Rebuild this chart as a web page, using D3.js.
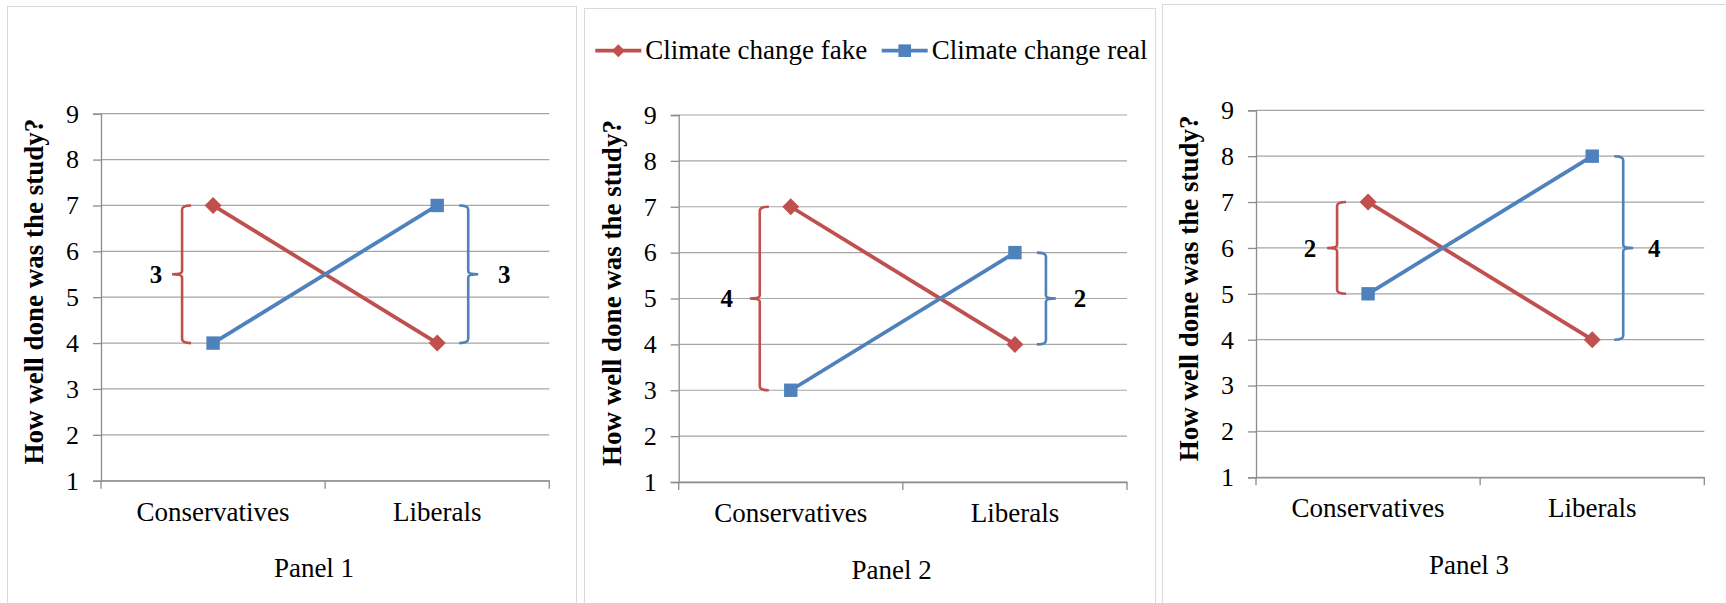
<!DOCTYPE html>
<html>
<head>
  <meta charset="UTF-8" />
  <title>How well done was the study?</title>
  <script src="https://cdn.jsdelivr.net/npm/d3@7"></script>
  <style>
    html, body { margin: 0; padding: 0; background: #fff; }
    svg { display: block; font-family: 'Liberation Serif', 'Times New Roman', serif; }
    .ytick text { font-size: 26px; font-family: 'Liberation Serif', 'Times New Roman', serif; fill: #000; }
    .xcat text { font-size: 27px; font-family: 'Liberation Serif', 'Times New Roman', serif; fill: #000; }
  </style>
</head>
<body>
  <svg id="chart"></svg>
  <script>
    // data
    const categories = ['Conservatives', 'Liberals'];
    const panelNames = ['Panel 1', 'Panel 2', 'Panel 3'];
    const seriesNames = ['Climate change fake', 'Climate change real'];
    const fakeValues = [[7, 4], [7, 4], [7, 4]];
    const realValues = [[4, 7], [3, 6], [5, 8]];
    const yTicks = [1, 2, 3, 4, 5, 6, 7, 8, 9];
    const yTitle = 'How well done was the study?';

    const width = 1726, height = 603;
    const red = '#C0504D', blue = '#4F81BD';

    // layout of each panel (plot area origin + frame)
    const plotLeft = [101, 678.7, 1256];
    const plotTop = [113.7, 115, 110.3];
    const frames = [[7.5, 6.5, 569], [584.5, 8.5, 571], [1162.5, 4.5, 600]];
    const redLabelDx = [-57, -64, -58];
    const blueLabelDx = [67, 65, 62];
    const plotW = 448.3, plotH = 367;

    const svg = d3.select('#chart').attr('width', width).attr('height', height);

    const x = d3.scaleBand().domain(categories).range([0, plotW]).padding(0);
    const y = d3.scaleLinear().domain([1, 9]).range([plotH, 0]);

    function bracket(xc, y1, y2, side) {
      // side = -1 : bracket on the left, nub pointing left
      const xv = xc + side * 31;
      const xh = xc + side * 22;
      const xn = xc + side * 41;
      const top = Math.min(y1, y2), bot = Math.max(y1, y2), mid = (top + bot) / 2;
      return `M${xh},${top} Q${xv},${top} ${xv},${top + 4} L${xv},${mid - 3} Q${xv},${mid} ${xn},${mid}` +
        ` Q${xv},${mid} ${xv},${mid + 3} L${xv},${bot - 4} Q${xv},${bot} ${xh},${bot}`;
    }

    const diamond = 'M0,-8.5L8.5,0L0,8.5L-8.5,0Z';

    panelNames.forEach((name, i) => {
      const f = frames[i];
      svg.append('rect')
        .attr('x', f[0]).attr('y', f[1]).attr('width', f[2]).attr('height', 700)
        .attr('fill', 'none').attr('stroke', '#D9D9D9').attr('stroke-width', 1);

      const g = svg.append('g').attr('transform', `translate(${plotLeft[i]},${plotTop[i]})`);

      // gridlines
      g.append('g')
        .selectAll('line')
        .data(yTicks)
        .join('line')
        .attr('x1', 0).attr('x2', plotW)
        .attr('y1', d => y(d)).attr('y2', d => y(d))
        .attr('stroke', '#A6A6A6').attr('stroke-width', 1.2);

      // y axis
      const yAxis = g.append('g').attr('class', 'ytick')
        .call(d3.axisLeft(y).tickValues(yTicks).tickFormat(d3.format('d')).tickSize(8).tickPadding(14));
      yAxis.select('.domain').attr('stroke', '#8C8C8C').attr('stroke-width', 1.3);
      yAxis.selectAll('.tick line').attr('stroke', '#8C8C8C').attr('stroke-width', 1.3);

      // x axis
      const xAxis = g.append('g').attr('class', 'xcat').attr('transform', `translate(0,${plotH})`)
        .call(d3.axisBottom(x).tickSize(0).tickPadding(0));
      xAxis.select('.domain').attr('stroke', '#8C8C8C').attr('stroke-width', 1.3);
      xAxis.selectAll('text').attr('y', 40).attr('dy', 0);
      const edges = categories.map(c => x(c)).concat([plotW]);
      xAxis.selectAll('.edge')
        .data(edges)
        .join('line')
        .attr('class', 'edge')
        .attr('x1', d => d).attr('x2', d => d)
        .attr('y1', 0).attr('y2', 8)
        .attr('stroke', '#8C8C8C').attr('stroke-width', 1.3);

      // axis title
      g.append('text')
        .attr('transform', `translate(-58,${plotH / 2 - 5.5}) rotate(-90)`)
        .attr('text-anchor', 'middle')
        .attr('font-size', 27).attr('font-weight', 'bold').attr('fill', '#000')
        .text(yTitle);

      // panel label
      g.append('text')
        .attr('x', 213).attr('y', plotH + 96.6)
        .attr('text-anchor', 'middle')
        .attr('font-size', 27).attr('fill', '#000')
        .text(name);

      const cx = c => x(c) + x.bandwidth() / 2;
      const fake = fakeValues[i], real = realValues[i];

      // brackets with the size of each gap
      const c0 = cx(categories[0]), c1 = cx(categories[1]);
      g.append('path')
        .attr('d', bracket(c0, y(fake[0]), y(real[0]), -1))
        .attr('fill', 'none').attr('stroke', red).attr('stroke-width', 2.6);
      g.append('text')
        .attr('x', c0 + redLabelDx[i]).attr('y', y((fake[0] + real[0]) / 2))
        .attr('dy', '0.35em').attr('text-anchor', 'middle')
        .attr('font-size', 25).attr('font-weight', 'bold').attr('fill', '#000')
        .text(Math.abs(fake[0] - real[0]));

      g.append('path')
        .attr('d', bracket(c1, y(fake[1]), y(real[1]), 1))
        .attr('fill', 'none').attr('stroke', blue).attr('stroke-width', 2.6);
      g.append('text')
        .attr('x', c1 + blueLabelDx[i]).attr('y', y((fake[1] + real[1]) / 2))
        .attr('dy', '0.35em').attr('text-anchor', 'middle')
        .attr('font-size', 25).attr('font-weight', 'bold').attr('fill', '#000')
        .text(Math.abs(fake[1] - real[1]));

      // series lines
      const line = d3.line().x((d, j) => cx(categories[j])).y(d => y(d));
      g.append('path').datum(fake).attr('d', line)
        .attr('fill', 'none').attr('stroke', red).attr('stroke-width', 3.8);
      g.append('path').datum(real).attr('d', line)
        .attr('fill', 'none').attr('stroke', blue).attr('stroke-width', 3.8);

      // markers
      g.selectAll('.fake-pt')
        .data(fake)
        .join('path')
        .attr('class', 'fake-pt')
        .attr('d', diamond)
        .attr('transform', (d, j) => `translate(${cx(categories[j])},${y(d)})`)
        .attr('fill', red);
      g.selectAll('.real-pt')
        .data(real)
        .join('rect')
        .attr('class', 'real-pt')
        .attr('x', (d, j) => cx(categories[j]) - 6.7)
        .attr('y', d => y(d) - 6.7)
        .attr('width', 13.4).attr('height', 13.4)
        .attr('fill', blue);

      // legend only on the middle panel
      if (i === 1) {
        const lg = svg.append('g').attr('transform', `translate(${plotLeft[i]},50.7)`);
        const items = [
          { name: seriesNames[0], color: red, x0: -83.4, shape: 'diamond' },
          { name: seriesNames[1], color: blue, x0: 203, shape: 'square' }
        ];
        items.forEach(it => {
          lg.append('line')
            .attr('x1', it.x0).attr('x2', it.x0 + 46)
            .attr('y1', 0).attr('y2', 0)
            .attr('stroke', it.color).attr('stroke-width', 3.8);
          if (it.shape === 'diamond') {
            lg.append('path').attr('d', 'M0,-6.5L6.5,0L0,6.5L-6.5,0Z')
              .attr('transform', `translate(${it.x0 + 23},0)`).attr('fill', it.color);
          } else {
            lg.append('rect').attr('x', it.x0 + 23 - 6.3).attr('y', -6.3)
              .attr('width', 12.6).attr('height', 12.6).attr('fill', it.color);
          }
          lg.append('text')
            .attr('x', it.x0 + 50).attr('y', 8.6)
            .attr('font-size', 27).attr('fill', '#000')
            .text(it.name);
        });
      }
    });
  </script>
</body>
</html>
